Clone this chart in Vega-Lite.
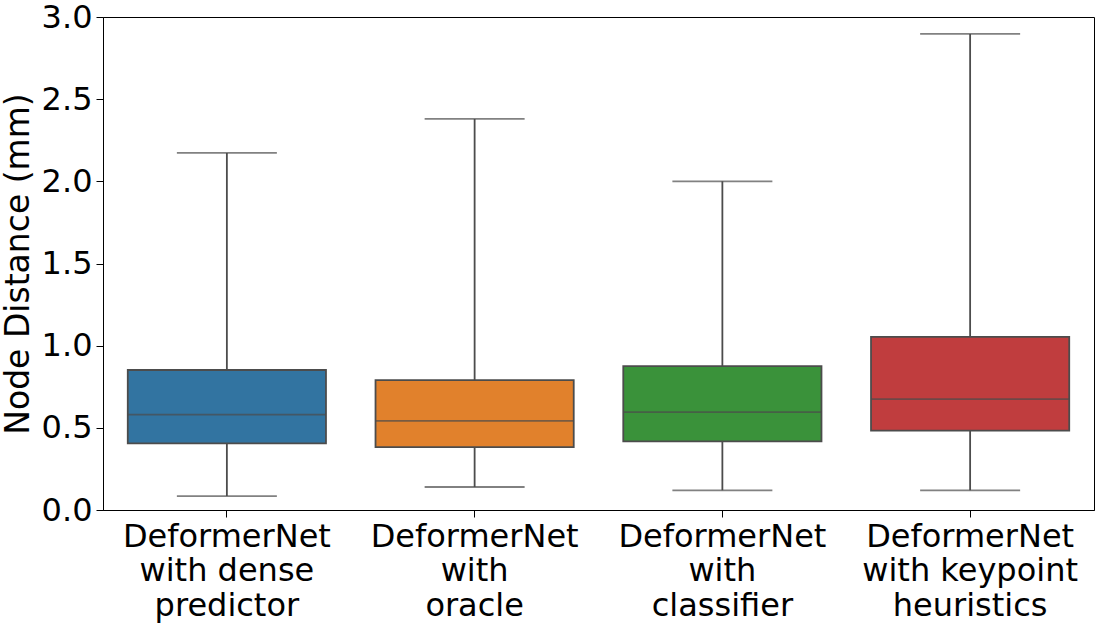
{
  "$schema": "https://vega.github.io/schema/vega-lite/v6.json",
  "autosize": {"type": "none"},
  "width": 991,
  "height": 493,
  "padding": {"left": 103, "top": 17, "right": 4, "bottom": 120},
  "background": "white",
  "config": {
    "font": "DejaVu Sans",
    "view": {"stroke": "black", "strokeWidth": 1},
    "axis": {"grid": false, "domainColor": "black", "tickColor": "black", "labelColor": "black", "titleColor": "black", "labelFontSize": 32, "titleFontSize": 33, "titleFontWeight": "normal", "tickSize": 7, "domainWidth": 1, "labelLimit": 0}
  },
  "data": {"values": [
    {"method": "DeformerNet|with dense|predictor", "low": 0.085, "q1": 0.405, "median": 0.58, "q3": 0.852, "high": 2.173},
    {"method": "DeformerNet|with|oracle", "low": 0.14, "q1": 0.383, "median": 0.542, "q3": 0.79, "high": 2.38},
    {"method": "DeformerNet|with|classifier", "low": 0.12, "q1": 0.418, "median": 0.596, "q3": 0.876, "high": 2.0},
    {"method": "DeformerNet|with keypoint|heuristics", "low": 0.12, "q1": 0.483, "median": 0.675, "q3": 1.053, "high": 2.897}
  ]},
  "encoding": {
    "x": {"field": "method", "type": "nominal", "sort": null,
      "scale": {"paddingInner": 0, "paddingOuter": 0},
      "axis": {"title": null, "labelAngle": 0, "labelExpr": "split(datum.label, '|')", "labelLineHeight": 34.5, "labelPadding": 4, "labelBaseline": "top"}},
    "color": {"field": "method", "type": "nominal", "sort": null, "legend": null,
      "scale": {"range": ["#3274a1", "#e1812c", "#3a923a", "#c03d3e"]}}
  },
  "layer": [
    {"mark": {"type": "rule", "color": "#4c4c4c", "strokeWidth": 1.8},
     "encoding": {
       "y": {"field": "low", "type": "quantitative", "scale": {"domain": [0, 3], "nice": false},
         "axis": {"title": "Node Distance (mm)", "format": ".1f", "values": [0, 0.5, 1, 1.5, 2, 2.5, 3], "labelPadding": 4, "titlePadding": 6}},
       "y2": {"field": "high"},
       "color": {"value": "#4c4c4c"}}},
    {"mark": {"type": "tick", "color": "#4c4c4c", "size": 100, "thickness": 1.8},
     "encoding": {"y": {"field": "low", "type": "quantitative"}, "color": {"value": "#4c4c4c"}}},
    {"mark": {"type": "tick", "color": "#4c4c4c", "size": 100, "thickness": 1.8},
     "encoding": {"y": {"field": "high", "type": "quantitative"}, "color": {"value": "#4c4c4c"}}},
    {"mark": {"type": "bar", "stroke": "#4c4c4c", "strokeWidth": 1.8, "width": {"band": 0.8}, "opacity": 1},
     "encoding": {"y": {"field": "q1", "type": "quantitative"}, "y2": {"field": "q3"}}},
    {"mark": {"type": "tick", "color": "#4c4c4c", "size": 198, "thickness": 1.8},
     "encoding": {"y": {"field": "median", "type": "quantitative"}, "color": {"value": "#4c4c4c"}}}
  ]
}
